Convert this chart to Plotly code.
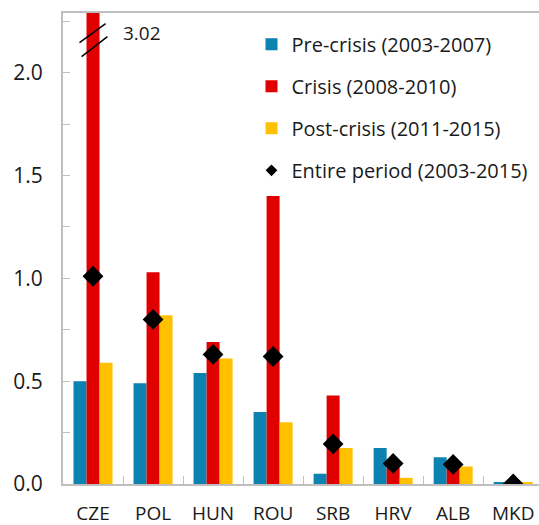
import plotly.graph_objects as go

categories = ["CZE", "POL", "HUN", "ROU", "SRB", "HRV", "ALB", "MKD"]
pre_crisis = [0.50, 0.49, 0.54, 0.35, 0.05, 0.175, 0.13, 0.005]
crisis = [3.02, 1.03, 0.69, 1.40, 0.43, 0.08, 0.09, 0.0]
post_crisis = [0.59, 0.82, 0.61, 0.30, 0.175, 0.03, 0.085, 0.005]
entire = [1.01, 0.80, 0.63, 0.62, 0.195, 0.10, 0.095, 0.0]
ytick_vals = [0, 0.25, 0.5, 0.75, 1.0, 1.25, 1.5, 1.75, 2.0, 2.25]
ytick_text = ["0.0", "", "0.5", "", "1.0", "", "1.5", "", "2.0", ""]

FONT = "Open Sans"
TXT = "#1a1a1a"
fig = go.Figure()
fig.add_trace(go.Bar(x=categories, y=pre_crisis, name="Pre-crisis (2003-2007)",
                     marker_color="#0B82B0", marker_line_width=0, legendgroup="a"))
fig.add_trace(go.Bar(x=categories, y=crisis, name="Crisis (2008-2010)",
                     marker_color="#E00000", marker_line_width=0, legendgroup="b"))
fig.add_trace(go.Bar(x=categories, y=post_crisis, name="Post-crisis (2011-2015)",
                     marker_color="#FFC000", marker_line_width=0, legendgroup="c"))
fig.add_trace(go.Scatter(x=categories, y=entire, name="Entire period (2003-2015)",
                         mode="markers", legendgroup="d", showlegend=False,
                         marker=dict(symbol="diamond", size=16, color="black")))
# legend entry with a smaller diamond
fig.add_trace(go.Scatter(x=[None], y=[None], name="Entire period (2003-2015)",
                         mode="markers", legendgroup="d",
                         marker=dict(symbol="diamond", size=9, color="black")))

# axis break marks on the clipped CZE bar
fig.add_shape(type="line", x0=-0.225, y0=2.146, x1=0.21, y1=2.238,
              line=dict(color="black", width=1.5), xref="x", yref="y")
fig.add_shape(type="line", x0=-0.19, y0=2.078, x1=0.24, y1=2.175,
              line=dict(color="black", width=1.5), xref="x", yref="y")
fig.add_annotation(x=0.46, y=2.195, xref="x", yref="y", text=str(crisis[0]),
                   showarrow=False, xanchor="left", yanchor="middle",
                   font=dict(family=FONT, size=19, color=TXT))

fig.update_layout(
    width=539, height=525,
    margin=dict(l=63, r=0, t=13, b=41, autoexpand=False),
    paper_bgcolor="white", plot_bgcolor="white",
    barmode="group", bargap=0.35, bargroupgap=0,
    font=dict(family=FONT, size=19, color=TXT),
    legend=dict(x=0.396, y=0.975, xanchor="left", yanchor="top",
                bgcolor="rgba(0,0,0,0)", traceorder="grouped", tracegroupgap=13,
                font=dict(family=FONT, size=20, color=TXT)),
    xaxis=dict(range=[-0.5, 7.43], showline=True, linecolor="#BFBFBF", linewidth=2,
               ticks="inside", tickson="boundaries", ticklen=8, tickcolor="#BFBFBF",
               mirror=True, showgrid=False, tickfont=dict(size=19),
               ticklabelstandoff=11, automargin=False),
    yaxis=dict(range=[0, 2.29], showline=True, linecolor="#BFBFBF", linewidth=2,
               ticks="inside", ticklen=7, tickcolor="#BFBFBF",
               tickvals=ytick_vals, ticktext=ytick_text, showgrid=False,
               zeroline=False, tickfont=dict(size=21), ticklabelstandoff=14,
               automargin=False),
)
fig.write_html("out.html", config={"displayModeBar": False},
               post_script="document.body.style.margin='0';document.body.style.overflow='hidden';")
